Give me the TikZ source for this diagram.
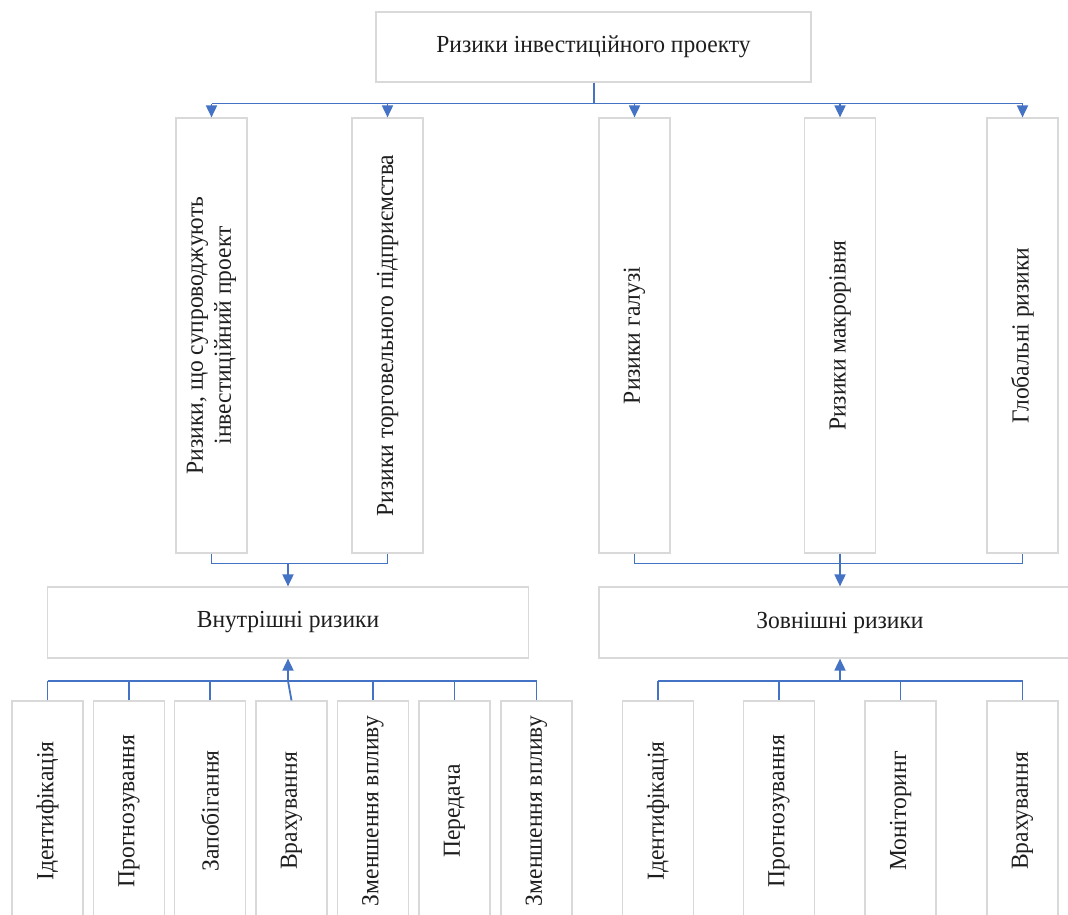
\documentclass[tikz,border=0pt]{standalone}
\usepackage{fontspec}
\setmainfont{Liberation Serif}[FakeStretch=0.96]
\usetikzlibrary{arrows.meta}
\definecolor{boxgray}{HTML}{D9D9D9}
\definecolor{linkblue}{HTML}{4472C4}
\definecolor{txt}{HTML}{1E1E1E}
\tikzset{
  box/.style={draw=boxgray, line width=1.2pt, fill=white, inner sep=0pt, text=txt,
    font=\fontsize{24.5}{28}\selectfont, align=center},
  hbox/.style={box, minimum height=71pt},
  tallbox/.style={box, minimum width=71pt, minimum height=435pt},
  lowbox/.style={box, minimum width=71pt, minimum height=220pt},
  vtext/.style={rotate=90},
  link/.style={draw=linkblue, line width=1.8pt},
  arr/.style={link, -{Triangle[width=11pt,length=12pt]}},
}
\begin{document}
\begin{tikzpicture}[x=1pt,y=-1pt]
\clip (0,0) rectangle (1068,914);
\fill[white] (0,0) rectangle (1068,914);
% top
\node[hbox, minimum width=435pt, minimum height=70pt] (top) at (593.5,47) {Ризики інвестиційного проекту};
% tall boxes
\node[tallbox] (r1) at (211.5,335.5) {};
\node[vtext, box, draw=none, fill=none] (t1) at (r1.center) {Ризики, що супроводжують\\інвестиційний проект};
\node[tallbox] (r2) at (387.5,335.5) {};
\node[vtext, box, draw=none, fill=none] (t2) at (r2.center) {Ризики торговельного підприємства};
\node[tallbox] (r3) at (634.5,335.5) {};
\node[vtext, box, draw=none, fill=none] (t3) at (r3.center) {Ризики галузі};
\node[tallbox] (r4) at (840,335.5) {};
\node[vtext, box, draw=none, fill=none] (t4) at (r4.center) {Ризики макрорівня};
\node[tallbox] (r5) at (1022.5,335.5) {};
\node[vtext, box, draw=none, fill=none] (t5) at (r5.center) {Глобальні ризики};
% middle
\node[hbox, minimum width=481pt] (int) at (288,622.5) {Внутрішні ризики};
\node[hbox, minimum width=482pt] (ext) at (840,622.5) {Зовнішні ризики};
% bottom left
\foreach \n/\x/\t in {b1/47.5/Ідентифікація, b2/129/Прогнозування, b3/210/Запобігання, b4/291.5/Врахування, b5/373/Зменшення впливу, b6/454.5/Передача, b7/536.5/Зменшення впливу}{
  \node[lowbox] (\n) at (\x,811) {};
  \node[vtext, box, draw=none, fill=none] at (\n.center) {\t};
}
% bottom right
\foreach \n/\x/\t in {c1/658/Ідентифікація, c2/779/Прогнозування, c3/900.5/Моніторинг, c4/1022.5/Врахування}{
  \node[lowbox] (\n) at (\x,811) {};
  \node[vtext, box, draw=none, fill=none] at (\n.center) {\t};
}
% connectors top
\coordinate (bus) at (594,103.5);
\draw[link] (top.south -| bus) -- (bus);
\draw[link] (r1.north |- bus) -- (r5.north |- bus);
\foreach \r in {r1,r2,r3,r4,r5}{ \draw[arr] (\r.north |- bus) -- (\r.north); }
% internal group
\coordinate (ibus) at (288,563.5);
\draw[link] (r1.south) -- (r1.south |- ibus) -- (r2.south |- ibus) -- (r2.south);
\draw[arr] (int.north |- ibus) -- (int.north);
% external group
\coordinate (ebus) at (840,563.5);
\draw[link] (r3.south) -- (r3.south |- ebus) -- (r5.south |- ebus) -- (r5.south);
\draw[link] (r4.south) -- (ebus);
\draw[arr] (ebus) -- (ext.north);
% bottom left bus
\coordinate (lbus) at (288,681);
\draw[link] (b1.north |- lbus) -- (b7.north |- lbus);
\foreach \b in {b1,b2,b3,b5,b6,b7}{ \draw[link] (\b.north) -- (\b.north |- lbus); }
\draw[link] (b4.north) -- (lbus);
\draw[arr] (lbus) -- (int.south);
% bottom right bus
\coordinate (rbus) at (840,681);
\draw[link] (c1.north |- rbus) -- (c4.north |- rbus);
\foreach \c in {c1,c2,c3,c4}{ \draw[link] (\c.north) -- (\c.north |- rbus); }
\draw[arr] (rbus) -- (ext.south);
\end{tikzpicture}
\end{document}
